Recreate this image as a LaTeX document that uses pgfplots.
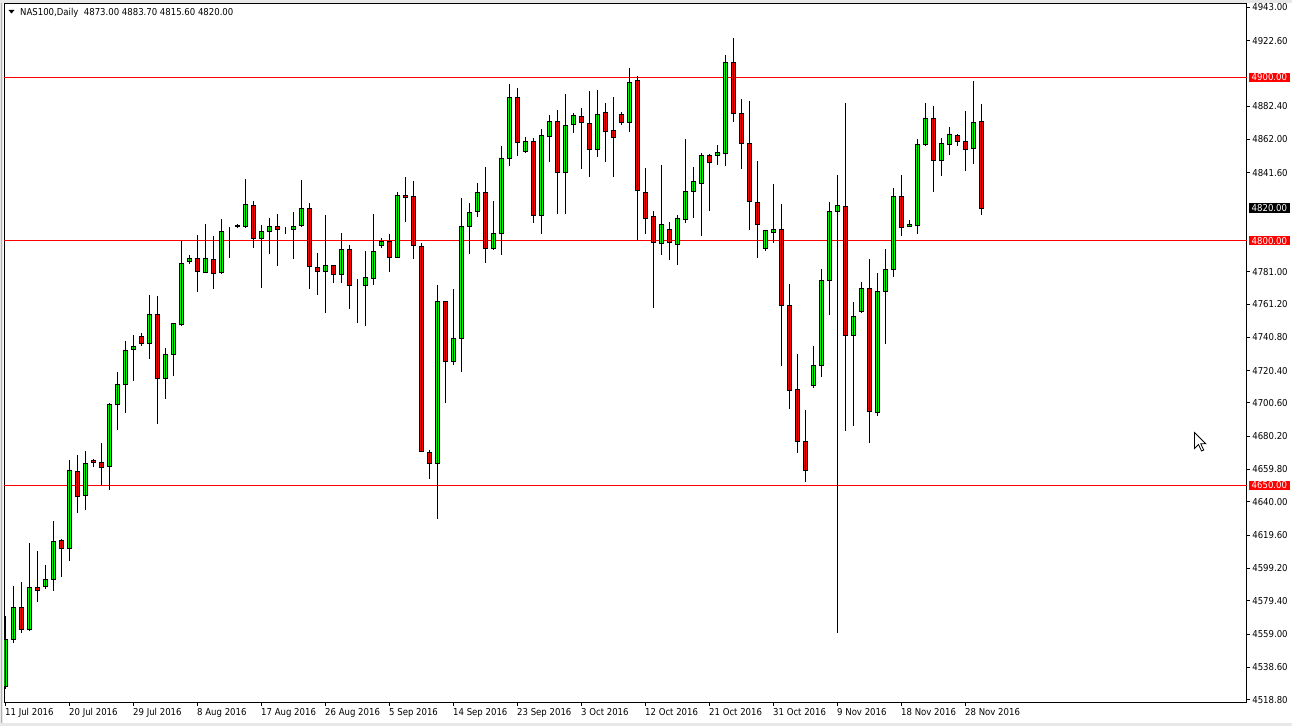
\documentclass[border=0pt]{standalone}
\usepackage{fontspec}
\usepackage{pgfplots}
\usepackage{pgfplotstable}
\pgfplotsset{compat=1.18}
\newfontfamily\mt{DejaVu Sans Condensed}
\definecolor{bull}{RGB}{0,255,0}
\definecolor{bear}{RGB}{255,0,0}
\definecolor{lvl}{RGB}{255,0,0}

\pgfplotstableread{
i o h l c
0 4527.0 4570.3 4525.0 4555.4
1 4555.4 4588.5 4553.3 4575.5
2 4575.5 4591.0 4559.9 4561.6
3 4561.6 4614.6 4560.6 4587.5
4 4587.5 4609.8 4578.8 4585.4
5 4588.1 4601.3 4586.4 4592.4
6 4592.4 4628.3 4585.4 4615.6
7 4616.3 4617.1 4594.1 4611.5
8 4611.5 4665.6 4604.0 4659.2
9 4658.7 4668.7 4633.4 4643.4
10 4643.8 4671.2 4634.7 4663.5
11 4665.6 4666.2 4661.4 4664.1
12 4664.1 4675.9 4650.2 4660.8
13 4661.6 4700.4 4647.3 4699.9
14 4699.9 4719.8 4684.2 4712.0
15 4712.0 4738.3 4694.6 4732.7
16 4733.1 4742.2 4714.2 4735.4
17 4741.4 4743.5 4735.6 4737.0
18 4737.0 4766.5 4727.3 4754.9
19 4754.9 4766.0 4687.9 4715.7
20 4715.7 4734.1 4703.3 4730.4
21 4730.4 4749.4 4717.3 4749.4
22 4748.5 4800.0 4747.7 4786.1
23 4787.4 4791.2 4785.9 4789.2
24 4789.2 4803.5 4768.6 4781.2
25 4780.6 4810.2 4780.6 4789.2
26 4788.6 4802.9 4770.2 4780.0
27 4780.6 4813.1 4779.4 4805.7
28 4806.7 4808.6 4789.6 4806.7
29 4808.6 4810.4 4807.6 4809.6
30 4808.8 4837.8 4807.6 4822.3
31 4821.7 4824.5 4795.7 4801.4
32 4801.4 4809.6 4771.2 4805.7
33 4805.7 4813.9 4791.8 4808.8
34 4808.8 4816.4 4784.7 4807.0
35 4806.1 4808.6 4804.1 4806.1
36 4807.0 4817.6 4789.0 4808.8
37 4809.2 4837.0 4808.2 4819.8
38 4819.8 4823.3 4770.2 4784.1
39 4783.7 4792.7 4766.9 4781.2
40 4781.2 4815.7 4755.9 4784.7
41 4785.1 4785.1 4773.9 4779.4
42 4779.4 4804.9 4773.9 4794.7
43 4794.7 4797.6 4758.4 4772.6
44 4772.6 4776.3 4749.8 4772.6
45 4772.6 4793.5 4748.0 4777.6
46 4777.0 4816.2 4772.6 4793.5
47 4797.1 4801.4 4795.3 4799.4
48 4799.6 4804.3 4780.6 4789.8
49 4789.8 4829.6 4789.2 4827.8
50 4827.8 4838.8 4811.7 4826.6
51 4827.2 4836.6 4789.0 4797.2
52 4796.6 4798.4 4670.3 4671.0
53 4670.3 4671.8 4654.2 4663.4
54 4663.4 4772.6 4629.7 4762.8
55 4762.8 4762.8 4700.3 4726.1
56 4726.1 4770.2 4723.6 4740.2
57 4740.2 4826.0 4719.5 4809.0
58 4808.8 4822.9 4791.9 4817.4
59 4818.0 4835.6 4814.7 4829.6
60 4829.6 4845.2 4786.1 4795.3
61 4795.3 4824.3 4794.0 4804.5
62 4804.5 4858.0 4791.4 4850.5
63 4850.5 4896.0 4846.0 4887.8
64 4887.8 4893.4 4851.9 4860.3
65 4854.6 4863.3 4853.9 4860.9
66 4860.9 4862.7 4811.0 4815.5
67 4815.5 4868.2 4804.3 4864.6
68 4863.9 4877.0 4848.4 4873.1
69 4873.1 4879.9 4816.2 4841.9
70 4841.9 4889.7 4816.6 4870.7
71 4871.3 4878.0 4866.2 4876.8
72 4876.2 4881.1 4843.7 4872.5
73 4871.9 4891.5 4838.8 4856.0
74 4856.0 4892.3 4851.5 4877.4
75 4878.6 4884.6 4848.0 4867.2
76 4867.6 4888.0 4838.8 4863.3
77 4877.4 4878.7 4870.7 4872.7
78 4872.7 4905.8 4866.4 4897.0
79 4898.3 4901.1 4800.4 4830.9
80 4829.6 4844.3 4804.3 4813.7
81 4814.9 4818.2 4758.5 4798.8
82 4798.4 4846.4 4791.0 4810.0
83 4807.0 4811.2 4788.2 4799.0
84 4797.8 4815.7 4785.1 4813.7
85 4813.1 4862.5 4810.6 4830.3
86 4830.3 4845.4 4814.1 4836.0
87 4835.1 4853.9 4803.1 4851.9
88 4851.9 4853.1 4818.4 4848.0
89 4851.9 4858.6 4846.4 4854.1
90 4853.7 4913.8 4846.0 4909.3
91 4909.3 4924.4 4872.9 4878.0
92 4878.0 4886.8 4843.9 4859.7
93 4859.7 4885.6 4806.5 4823.9
94 4823.5 4848.8 4789.6 4810.0
95 4795.3 4806.4 4793.7 4806.4
96 4805.3 4834.7 4798.8 4806.6
97 4806.6 4822.3 4723.4 4760.4
98 4760.4 4773.5 4696.9 4708.5
99 4708.9 4730.6 4670.1 4676.9
100 4676.9 4696.3 4652.3 4659.1
101 4711.0 4735.5 4709.5 4723.8
102 4723.8 4782.7 4716.7 4775.5
103 4775.7 4823.8 4754.7 4818.1
104 4818.0 4840.1 4559.7 4821.6
105 4820.9 4884.5 4683.6 4742.1
106 4742.1 4762.4 4686.2 4753.6
107 4756.5 4774.4 4755.4 4770.8
108 4770.8 4788.7 4676.3 4695.5
109 4694.6 4780.5 4692.4 4769.0
110 4769.0 4794.7 4736.6 4782.5
111 4782.5 4832.2 4777.9 4827.1
112 4827.1 4840.1 4803.0 4808.1
113 4809.0 4812.8 4808.8 4810.1
114 4809.5 4862.2 4803.9 4859.1
115 4859.1 4884.5 4858.2 4874.6
116 4874.6 4882.3 4829.8 4849.0
117 4849.0 4862.9 4839.9 4859.4
118 4858.9 4869.9 4852.7 4865.3
119 4864.4 4865.5 4858.0 4860.9
120 4860.9 4879.4 4842.4 4855.8
121 4856.5 4897.6 4847.0 4872.6
122 4873.0 4883.7 4815.6 4820.0
}\candles

\begin{document}
\begin{tikzpicture}[x=1pt,y=1pt]
\fill[gray!18] (0,0) rectangle (1292,726);
\fill[white] (3,3) rectangle (1292,722.5);
\draw[gray!60, line width=1pt] (1,3) -- (1,722.5);
\begin{axis}[
  at={(4.5pt,23.5pt)}, anchor=south west,
  scale only axis, width=1242pt, height=698.5pt,
  xmin=-0.125, xmax=155.125, ymin=4517.03, ymax=4945.04,
  ybar stacked, bar width=4pt,
  clip mode=individual,
  axis line style={black, line width=1pt},
  xtick={0,8,...,120}, xticklabels={}, xtick pos=bottom,
  ytick={4943.0,4922.6,4882.4,4862.0,4841.6,4781.0,4761.2,4740.8,4720.4,4700.6,4680.2,4659.8,4640.0,4619.6,4599.2,4579.4,4559.0,4538.6,4518.8},
  yticklabels={}, ytick pos=right,
  tick align=outside, major tick length=3pt,
  tick style={black, line width=1pt},
  font=\mt\fontsize{9.5}{11}\selectfont,
]
\addplot[draw=none, fill=none, forget plot,
  error bars/.cd, y dir=both, y explicit, error mark=none,
  error bar style={draw=black, solid, line width=1pt}]
  table[x=i, y expr={min(\thisrow{o},\thisrow{c})},
        y error plus expr={\thisrow{h}-min(\thisrow{o},\thisrow{c})},
        y error minus expr={min(\thisrow{o},\thisrow{c})-\thisrow{l}}] {\candles};
\addplot[fill=bull, draw=black, line width=1pt]
  table[x=i, y expr={max(\thisrow{c}-\thisrow{o},0)}] {\candles};
\addplot[fill=bear, draw=black, line width=1pt]
  table[x=i, y expr={max(\thisrow{o}-\thisrow{c},0)}] {\candles};

\draw[lvl, line width=1pt] (axis cs:-0.125,4900) -- (axis cs:155.125,4900);
\draw[lvl, line width=1pt] (axis cs:-0.125,4800) -- (axis cs:155.125,4800);
\draw[lvl, line width=1pt] (axis cs:-0.125,4650) -- (axis cs:155.125,4650);

\pgfplotsinvokeforeach{4943.00,4922.60,4882.40,4862.00,4841.60,4781.00,4761.20,4740.80,4720.40,4700.60,4680.20,4659.80,4640.00,4619.60,4599.20,4579.40,4559.00,4538.60,4518.80}{
  \node[anchor=west, inner sep=0pt, text=black] at ([xshift=5.6pt]axis cs:155.125,#1) {#1};
}
\node[anchor=west, fill=lvl, text=white, inner sep=0pt, minimum width=41.7pt, minimum height=9.6pt] at ([xshift=1.8pt]axis cs:155.125,4900) {4900.00};
\node[anchor=west, fill=black, text=white, inner sep=0pt, minimum width=41.7pt, minimum height=9.6pt] at ([xshift=1.8pt]axis cs:155.125,4820) {4820.00};
\node[anchor=west, fill=lvl, text=white, inner sep=0pt, minimum width=41.7pt, minimum height=9.6pt] at ([xshift=1.8pt]axis cs:155.125,4800) {4800.00};
\node[anchor=west, fill=lvl, text=white, inner sep=0pt, minimum width=41.7pt, minimum height=9.6pt] at ([xshift=1.8pt]axis cs:155.125,4650) {4650.00};

\node[anchor=base west, inner sep=0pt] at (axis cs:-0.06,4509.2) {11 Jul 2016};
\node[anchor=base west, inner sep=0pt] at (axis cs:7.94,4509.2) {20 Jul 2016};
\node[anchor=base west, inner sep=0pt] at (axis cs:15.94,4509.2) {29 Jul 2016};
\node[anchor=base west, inner sep=0pt] at (axis cs:23.94,4509.2) {8 Aug 2016};
\node[anchor=base west, inner sep=0pt] at (axis cs:31.94,4509.2) {17 Aug 2016};
\node[anchor=base west, inner sep=0pt] at (axis cs:39.94,4509.2) {26 Aug 2016};
\node[anchor=base west, inner sep=0pt] at (axis cs:47.94,4509.2) {5 Sep 2016};
\node[anchor=base west, inner sep=0pt] at (axis cs:55.94,4509.2) {14 Sep 2016};
\node[anchor=base west, inner sep=0pt] at (axis cs:63.94,4509.2) {23 Sep 2016};
\node[anchor=base west, inner sep=0pt] at (axis cs:71.94,4509.2) {3 Oct 2016};
\node[anchor=base west, inner sep=0pt] at (axis cs:79.94,4509.2) {12 Oct 2016};
\node[anchor=base west, inner sep=0pt] at (axis cs:87.94,4509.2) {21 Oct 2016};
\node[anchor=base west, inner sep=0pt] at (axis cs:95.94,4509.2) {31 Oct 2016};
\node[anchor=base west, inner sep=0pt] at (axis cs:103.94,4509.2) {9 Nov 2016};
\node[anchor=base west, inner sep=0pt] at (axis cs:111.94,4509.2) {18 Nov 2016};
\node[anchor=base west, inner sep=0pt] at (axis cs:119.94,4509.2) {28 Nov 2016};
\end{axis}
% header
\fill[black] (8.5,716) -- (14.5,716) -- (11.5,712.5) -- cycle;
\node[anchor=base west, inner sep=0pt, font=\mt\fontsize{9.5}{11}\selectfont] at (20,710) {NAS100,Daily\ \ 4873.00 4883.70 4815.60 4820.00};
% mouse cursor
\begin{scope}[shift={(1194.5,293.5)}, yscale=-1]
\draw[black, fill=white, line width=0.8pt, line join=miter] (0,0) -- (0,16) -- (4,12) -- (7,18.5) -- (9.2,17.5) -- (6.2,11.2) -- (11.2,11.2) -- cycle;
\end{scope}
\pgfresetboundingbox
\useasboundingbox (0,0) rectangle (1292,726);
\end{tikzpicture}
\end{document}
